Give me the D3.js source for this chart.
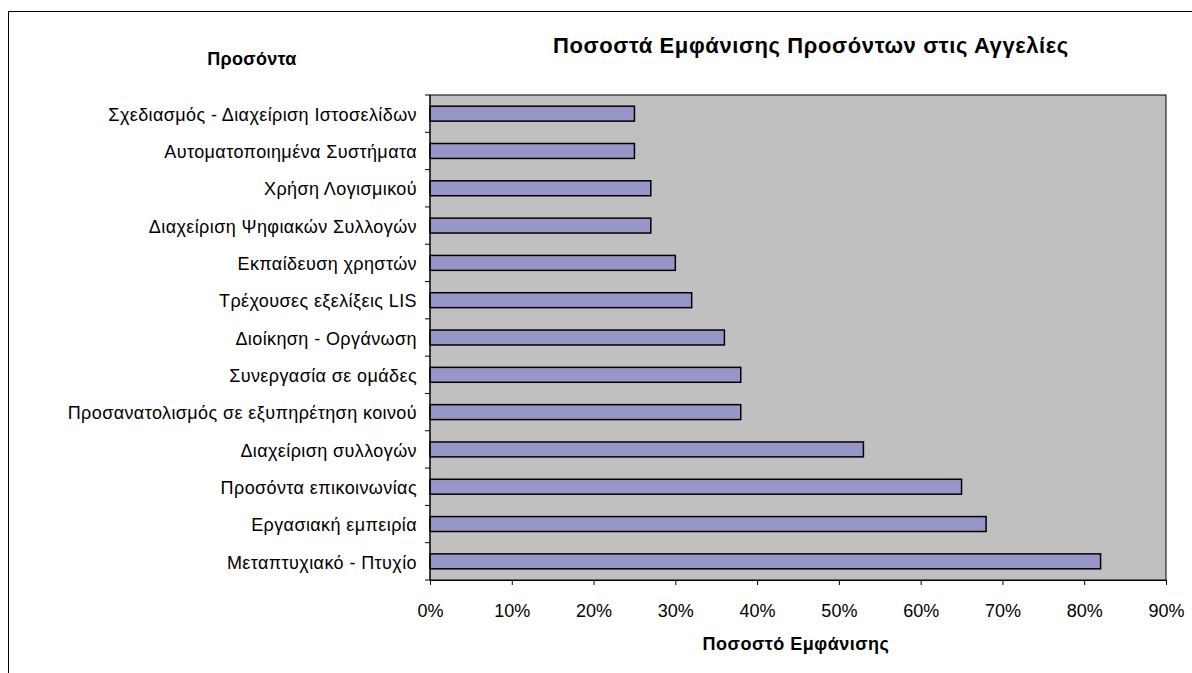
<!DOCTYPE html>
<html><head><meta charset="utf-8">
<script src="https://cdn.jsdelivr.net/npm/d3@7"></script>
<style>body{margin:0;background:#fff;}svg{display:block;font-family:"Liberation Sans",Arial,sans-serif;}</style>
</head><body>
<svg id="c" width="1192" height="673"></svg>
<script>
const categories = [
  "Σχεδιασμός - Διαχείριση Ιστοσελίδων",
  "Αυτοματοποιημένα Συστήματα",
  "Χρήση Λογισμικού",
  "Διαχείριση Ψηφιακών Συλλογών",
  "Εκπαίδευση χρηστών",
  "Τρέχουσες εξελίξεις LIS",
  "Διοίκηση - Οργάνωση",
  "Συνεργασία σε ομάδες",
  "Προσανατολισμός σε εξυπηρέτηση κοινού",
  "Διαχείριση συλλογών",
  "Προσόντα επικοινωνίας",
  "Εργασιακή εμπειρία",
  "Μεταπτυχιακό - Πτυχίο"
];
const values = [0.25, 0.25, 0.27, 0.27, 0.30, 0.32, 0.36, 0.38, 0.38, 0.53, 0.65, 0.68, 0.82];
const xTicks = [0, 0.1, 0.2, 0.3, 0.4, 0.5, 0.6, 0.7, 0.8, 0.9];

const svg = d3.select("#c");
// outer chart border
svg.append("rect").attr("x", 8.5).attr("y", 11.5).attr("width", 1200).attr("height", 700)
  .attr("fill", "none").attr("stroke", "#000").attr("stroke-width", 1);

const L = 430, R = 1166, T = 95, B = 580;
const x = d3.scaleLinear().domain([0, 0.9]).range([L, R]);
const y = d3.scaleBand().domain(categories).range([T, B]).paddingInner(0.6).paddingOuter(0.3);
const yb = d3.scaleBand().domain(categories).range([T, B]);

svg.append("rect").attr("x", L).attr("y", T).attr("width", R - L).attr("height", B - T)
  .attr("fill", "#c0c0c0").attr("stroke", "#000").attr("stroke-width", 1);

svg.selectAll("rect.bar").data(values).enter().append("rect").attr("class", "bar")
  .attr("x", x(0)).attr("y", (d, i) => y(categories[i]))
  .attr("width", d => x(d) - x(0)).attr("height", y.bandwidth())
  .attr("fill", "#9696c8").attr("stroke", "#000").attr("stroke-width", 1.5);

// x axis
const xa = svg.append("g").attr("transform", `translate(0,${B})`)
  .call(d3.axisBottom(x).tickValues(xTicks).tickFormat(d3.format(".0%")).tickSize(5));
xa.select(".domain").attr("stroke", "#000");
xa.selectAll("text").attr("font-size", 18).attr("fill", "#000")
  .attr("y", 37).attr("dy", "0")
  .attr("font-family", "Liberation Sans, Arial, sans-serif");

// y axis with ticks at band boundaries
const ya = svg.append("g").attr("transform", `translate(${L},0)`);
ya.append("line").attr("x1", 0).attr("x2", 0).attr("y1", T).attr("y2", B).attr("stroke", "#000");
const bounds = categories.map(c => yb(c)).concat([B]);
ya.selectAll("line.tk").data(bounds).enter().append("line").attr("class", "tk")
  .attr("x1", -5).attr("x2", 0).attr("y1", d => d).attr("y2", d => d).attr("stroke", "#000");
ya.selectAll("text").data(categories).enter().append("text")
  .attr("x", -13).attr("y", d => yb(d) + yb.bandwidth() / 2).attr("dy", "0.4em")
  .attr("text-anchor", "end").attr("font-size", 18).attr("letter-spacing", "0.4px").text(d => d);

svg.append("text").attr("x", 811).attr("y", 53).attr("text-anchor", "middle")
  .attr("font-size", 22).attr("letter-spacing", "0.6px").attr("font-weight", "bold")
  .text("Ποσοστά Εμφάνισης Προσόντων στις Αγγελίες");
svg.append("text").attr("x", 252).attr("y", 65).attr("text-anchor", "middle")
  .attr("font-size", 18).attr("letter-spacing", "0.3px").attr("font-weight", "bold").text("Προσόντα");
svg.append("text").attr("x", 796).attr("y", 650).attr("text-anchor", "middle")
  .attr("font-size", 18).attr("letter-spacing", "0.5px").attr("font-weight", "bold").text("Ποσοστό Εμφάνισης");
</script>
</body></html>
